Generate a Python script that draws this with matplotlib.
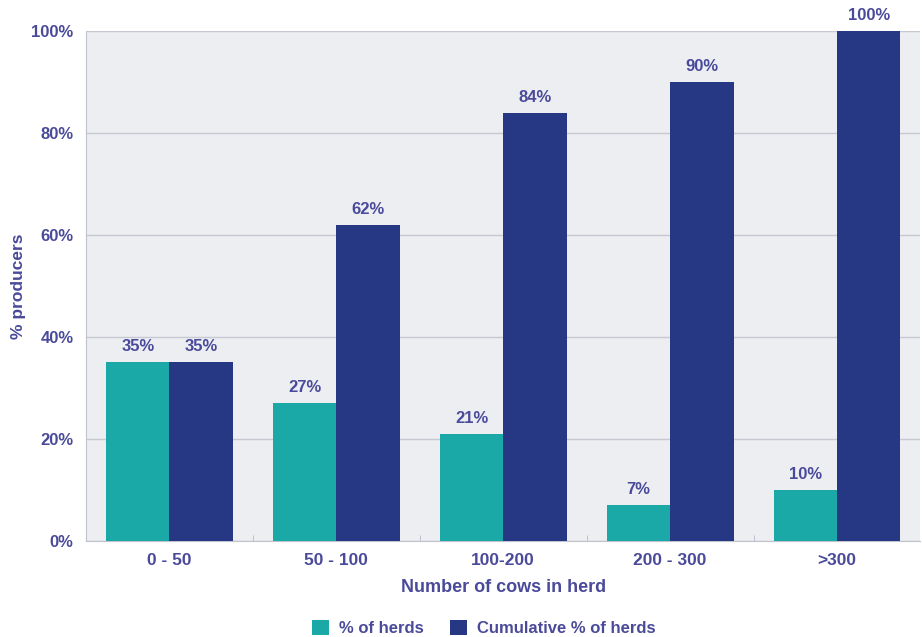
import matplotlib
matplotlib.use("Agg")
import matplotlib.pyplot as plt
import numpy as np

categories = ["0 - 50", "50 - 100", "100-200", "200 - 300", ">300"]
pct_herds = [35, 27, 21, 7, 10]
cum_herds = [35, 62, 84, 90, 100]

TEAL = "#1aa9a6"
NAVY = "#263883"
TXT = "#4a4a9a"

plt.rcParams['font.family'] = ['Liberation Sans', 'DejaVu Sans']
plt.rcParams['font.weight'] = 'bold'

fig = plt.figure(figsize=(9.22, 6.37), dpi=100)
ax = fig.add_axes([0.0933, 0.151, 0.905, 0.800])
ax.set_facecolor("#eceef2")

x = np.arange(len(categories))
w = 0.38
b1 = ax.bar(x - w / 2, pct_herds, w, color=TEAL, label="% of herds", zorder=3)
b2 = ax.bar(x + w / 2, cum_herds, w, color=NAVY, label="Cumulative % of herds", zorder=3)

for bars, vals in ((b1, pct_herds), (b2, cum_herds)):
    for r, v in zip(bars, vals):
        ax.text(r.get_x() + r.get_width() / 2, v + 1.6, f"{v}%", ha="center", va="bottom",
                color=TXT, fontsize=12, fontweight="bold")

ax.set_xlim(-0.5, 4.5)
ax.set_ylim(0, 100)
ax.set_yticks(np.arange(0, 101, 20))
ax.set_yticklabels([f"{v}%" for v in range(0, 101, 20)])
ax.set_xticks(x)
ax.set_xticklabels(categories)
ax.set_xticks(np.arange(0.5, 4.5, 1), minor=True)
ax.tick_params(axis="x", which="major", length=0, pad=9, labelsize=12.5, labelcolor=TXT)
ax.tick_params(axis="x", which="minor", direction="in", length=4, color="#b8b8c8")
ax.tick_params(axis="y", length=0, pad=9, labelsize=12, labelcolor=TXT)
ax.grid(axis="y", color="#c6c8d2", linewidth=1, zorder=0)

for s in ("top", "right"):
    ax.spines[s].set_visible(False)
for s in ("left", "bottom"):
    ax.spines[s].set_color("#c0c2cc")

ax.set_xlabel("Number of cows in herd", color=TXT, fontsize=13, fontweight="bold", labelpad=8)
ax.set_ylabel("% producers", color=TXT, fontsize=12.5, fontweight="bold", labelpad=4)

leg = fig.legend(loc="lower center", bbox_to_anchor=(0.525, -0.022), ncol=2, frameon=False,
                 fontsize=12, handlelength=1.0, handleheight=1.0, columnspacing=1.6,
                 handletextpad=0.6)
for t in leg.get_texts():
    t.set_color(TXT)

fig.savefig("out.png", dpi=100)
